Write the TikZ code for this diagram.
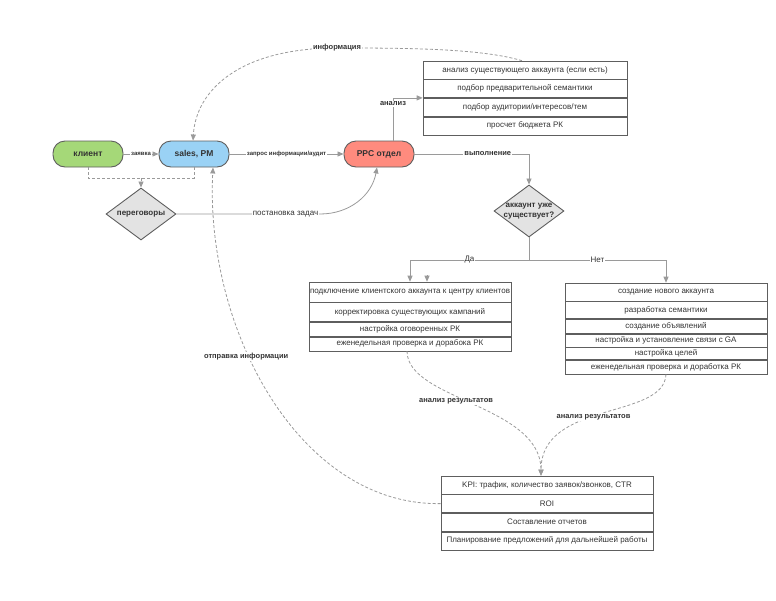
\documentclass[tikz,border=0pt]{standalone}
\usepackage{fontspec}
\setmainfont{Liberation Sans}
\usepackage{xcolor}
\usetikzlibrary{arrows.meta, positioning, shapes.geometric, calc}

\definecolor{clientgreen}{HTML}{A5D878}
\definecolor{salesblue}{HTML}{9AD2F5}
\definecolor{ppcred}{HTML}{FF8B7E}
\definecolor{choicegray}{HTML}{E3E3E3}
\definecolor{edgegray}{HTML}{5E5E5E}
\definecolor{linegray}{HTML}{9A9A9A}
\definecolor{textgray}{HTML}{333333}

\begin{document}
\begin{tikzpicture}[x=1pt, y=-1pt,
    pill/.style={rectangle, rounded corners=12pt, draw=edgegray, line width=0.9pt,
      minimum width=70pt, minimum height=26pt, text=textgray,
      font=\fontsize{8.5}{10}\selectfont\bfseries},
    choice/.style={diamond, draw=edgegray, line width=0.9pt, fill=choicegray,
      minimum width=70pt, minimum height=52pt, inner sep=0pt},
    choicetext/.style={align=center, text=textgray,
      font=\fontsize{8}{9.5}\selectfont\bfseries},
    cell/.style={rectangle, draw=edgegray, line width=0.6pt, inner sep=1pt,
      text=textgray, font=\fontsize{8}{9}\selectfont},
    auditcell/.style={cell, minimum width=204pt, minimum height=18pt},
    oldcell/.style={cell, minimum width=202pt},
    newcell/.style={cell, minimum width=202pt},
    kpicell/.style={cell, minimum width=212pt, minimum height=18pt},
    arrow/.style={draw=linegray, line width=0.8pt, -{Triangle[length=6pt, width=5pt]}},
    dasharrow/.style={arrow, dash pattern=on 3pt off 2pt},
    dashline/.style={draw=linegray, line width=0.8pt, dash pattern=on 3pt off 2pt},
    lbl/.style={fill=white, inner sep=1pt, text=textgray,
      font=\fontsize{7.5}{9}\selectfont\bfseries},
    smalllbl/.style={lbl, font=\fontsize{6}{7}\selectfont\bfseries},
    plainlbl/.style={lbl, font=\fontsize{8}{9}\selectfont}
]
\useasboundingbox (0,0) rectangle (776,600);

\node[pill, fill=clientgreen] (client) at (88,154)  {клиент};
\node[pill, fill=salesblue]   (sales)  at (194,154) {sales, PM};
\node[pill, fill=ppcred]      (ppc)    at (379,154) {PPC отдел};
\node[choice] (talks)  at (141,214)
  [label={[choicetext]center:переговоры}] {};
\node[choice] (exists) at (529,211)
  [label={[choicetext]center:{аккаунт уже\\существует?}}] {};

\node[auditcell] (audit1) at (525,70) {анализ существующего аккаунта (если есть)};
\node[auditcell, below=0pt of audit1] (audit2) {подбор предварительной семантики};
\node[auditcell, below=0pt of audit2] (audit3) {подбор аудитории/интересов/тем};
\node[auditcell, below=0pt of audit3] (audit4) {просчет бюджета РК};

\node[oldcell, minimum height=20pt] (old1) at (410,292)
  {подключение клиентского аккаунта к центру клиентов};
\node[oldcell, minimum height=19pt, below=0pt of old1] (old2) {корректировка существующих кампаний};
\node[oldcell, minimum height=14pt, below=0pt of old2] (old3) {настройка оговоренных РК};
\node[oldcell, minimum height=14pt, below=0pt of old3] (old4) {еженедельная проверка и дорабока РК};

\node[newcell, minimum height=18pt] (new1) at (666,292) {создание нового аккаунта};
\node[newcell, minimum height=17pt, below=0pt of new1] (new2) {разработка семантики};
\node[newcell, minimum height=14pt, below=0pt of new2] (new3) {создание объявлений};
\node[newcell, minimum height=13pt, below=0pt of new3] (new4) {настройка и установление связи с GA};
\node[newcell, minimum height=12pt, below=0pt of new4] (new5) {настройка целей};
\node[newcell, minimum height=14pt, below=0pt of new5] (new6) {еженедельная проверка и доработка РК};

\node[kpicell] (kpi1) at (547,485) {KPI: трафик, количество заявок/звонков, CTR};
\node[kpicell, below=0pt of kpi1] (kpi2) {ROI};
\node[kpicell, below=0pt of kpi2] (kpi3) {Составление отчетов};
\node[kpicell, below=0pt of kpi3] (kpi4) {Планирование предложений для дальнейшей работы};

\coordinate (merge) at (141,178);
\coordinate (split) at (529,260);
\coordinate (stub)  at (427,275);

\draw[arrow] (client) -- node[smalllbl] {заявка} (sales);
\draw[arrow] (sales) -- node[smalllbl] {запрос информации/аудит} (ppc);
\draw[dashline] (client.south) |- (merge) -| (sales.south);
\draw[dasharrow] (merge) -- (talks.north);
\draw[arrow] (talks.east) -- node[plainlbl, pos=0.76] {постановка задач} (320,214)
  .. controls (350,214) and (372,195) .. ([xshift=-2pt]ppc.south);
\draw[arrow] ([xshift=14pt]ppc.north) |- node[lbl, pos=0.43] {анализ} (audit2.south west);
\draw[arrow] (ppc.east) -| node[lbl, pos=0.32] {выполнение} (exists.north);
\draw[arrow] (exists.south) -- (split) -| node[plainlbl, pos=0.25] {Да} (old1.north);
\draw[arrow] (split) -| node[plainlbl, pos=0.25] {Нет} (new1.north);
\draw[arrow] (stub) -- (stub |- old1.north);
\draw[dasharrow] ([xshift=-3pt]audit1.north) .. controls (480,48) and (400,48) .. (337,48)
  node[lbl] {информация}
  .. controls (240,48) and (196,90) .. ([xshift=-1pt]sales.north);
\draw[dasharrow] (kpi2.west) .. controls (300,506) and (205,330) ..
  node[lbl, pos=0.6, xshift=-3pt] {отправка информации} ([xshift=19pt]sales.south);
\draw[dasharrow] ([xshift=-3pt]old4.south) .. controls (407,400) and (541,405) ..
  node[lbl, pos=0.41, yshift=-5pt] {анализ результатов} ([xshift=-6pt]kpi1.north);
\draw[dasharrow] (new6.south) .. controls (664,420) and (541,400) ..
  node[lbl, pos=0.55] {анализ результатов} ([xshift=-6pt]kpi1.north);
\end{tikzpicture}
\end{document}
